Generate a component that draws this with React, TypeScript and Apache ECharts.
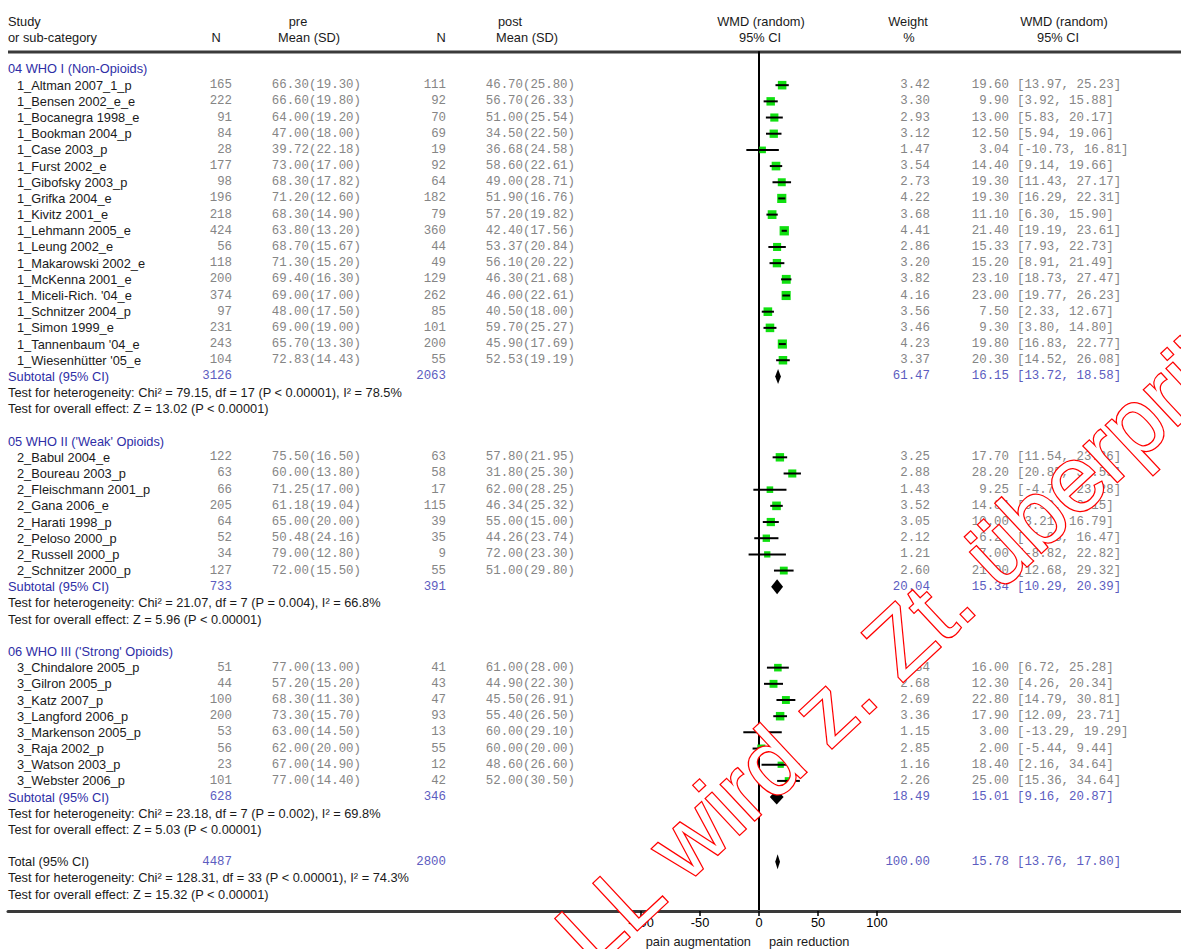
import React, { useEffect, useRef } from "react";
import * as echarts from "echarts";

const groupTitles = ["04 WHO I (Non-Opioids)", "05 WHO II ('Weak' Opioids)", "06 WHO III ('Strong' Opioids)"];
const groupSizes = [18, 8, 8];
const studyNames = [
  "1_Altman 2007_1_p", "1_Bensen 2002_e_e", "1_Bocanegra 1998_e", "1_Bookman 2004_p", "1_Case 2003_p",
  "1_Furst 2002_e", "1_Gibofsky 2003_p", "1_Grifka 2004_e", "1_Kivitz 2001_e", "1_Lehmann 2005_e",
  "1_Leung 2002_e", "1_Makarowski 2002_e", "1_McKenna 2001_e", "1_Miceli-Rich. '04_e", "1_Schnitzer 2004_p",
  "1_Simon 1999_e", "1_Tannenbaum '04_e", "1_Wiesenhütter '05_e",
  "2_Babul 2004_e", "2_Boureau 2003_p", "2_Fleischmann 2001_p", "2_Gana 2006_e", "2_Harati 1998_p",
  "2_Peloso 2000_p", "2_Russell 2000_p", "2_Schnitzer 2000_p",
  "3_Chindalore 2005_p", "3_Gilron 2005_p", "3_Katz 2007_p", "3_Langford 2006_p", "3_Markenson 2005_p",
  "3_Raja 2002_p", "3_Watson 2003_p", "3_Webster 2006_p",
];
const preN = [165, 222, 91, 84, 28, 177, 98, 196, 218, 424, 56, 118, 200, 374, 97, 231, 243, 104,
  122, 63, 66, 205, 64, 52, 34, 127,
  51, 44, 100, 200, 53, 56, 23, 101];
const preMean = [66.3, 66.6, 64.0, 47.0, 39.72, 73.0, 68.3, 71.2, 68.3, 63.8, 68.7, 71.3, 69.4, 69.0, 48.0, 69.0, 65.7, 72.83,
  75.5, 60.0, 71.25, 61.18, 65.0, 50.48, 79.0, 72.0,
  77.0, 57.2, 68.3, 73.3, 63.0, 62.0, 67.0, 77.0];
const preSD = [19.3, 19.8, 19.2, 18.0, 22.18, 17.0, 17.82, 12.6, 14.9, 13.2, 15.67, 15.2, 16.3, 17.0, 17.5, 19.0, 13.3, 14.43,
  16.5, 13.8, 17.0, 19.04, 20.0, 24.16, 12.8, 15.5,
  13.0, 15.2, 11.3, 15.7, 14.5, 20.0, 14.9, 14.4];
const postN = [111, 92, 70, 69, 19, 92, 64, 182, 79, 360, 44, 49, 129, 262, 85, 101, 200, 55,
  63, 58, 17, 115, 39, 35, 9, 55,
  41, 43, 47, 93, 13, 55, 12, 42];
const postMean = [46.7, 56.7, 51.0, 34.5, 36.68, 58.6, 49.0, 51.9, 57.2, 42.4, 53.37, 56.1, 46.3, 46.0, 40.5, 59.7, 45.9, 52.53,
  57.8, 31.8, 62.0, 46.34, 55.0, 44.26, 72.0, 51.0,
  61.0, 44.9, 45.5, 55.4, 60.0, 60.0, 48.6, 52.0];
const postSD = [25.8, 26.33, 25.54, 22.5, 24.58, 22.61, 28.71, 16.76, 19.82, 17.56, 20.84, 20.22, 21.68, 22.61, 18.0, 25.27, 17.69, 19.19,
  21.95, 25.3, 28.25, 25.32, 15.0, 23.74, 23.3, 29.8,
  28.0, 22.3, 26.91, 26.5, 29.1, 20.0, 26.6, 30.5];
const weights = [3.42, 3.30, 2.93, 3.12, 1.47, 3.54, 2.73, 4.22, 3.68, 4.41, 2.86, 3.20, 3.82, 4.16, 3.56, 3.46, 4.23, 3.37,
  3.25, 2.88, 1.43, 3.52, 3.05, 2.12, 1.21, 2.60,
  2.34, 2.68, 2.69, 3.36, 1.15, 2.85, 1.16, 2.26];
const wmd = [19.6, 9.9, 13.0, 12.5, 3.04, 14.4, 19.3, 19.3, 11.1, 21.4, 15.33, 15.2, 23.1, 23.0, 7.5, 9.3, 19.8, 20.3,
  17.7, 28.2, 9.25, 14.84, 10.0, 6.22, 7.0, 21.0,
  16.0, 12.3, 22.8, 17.9, 3.0, 2.0, 18.4, 25.0];
const ciLow = [13.97, 3.92, 5.83, 5.94, -10.73, 9.14, 11.43, 16.29, 6.3, 19.19, 7.93, 8.91, 18.73, 19.77, 2.33, 3.8, 16.83, 14.52,
  11.54, 20.85, -4.78, 9.53, 3.21, -4.03, -8.82, 12.68,
  6.72, 4.26, 14.79, 12.09, -13.29, -5.44, 2.16, 15.36];
const ciHigh = [25.23, 15.88, 20.17, 19.06, 16.81, 19.66, 27.17, 22.31, 15.9, 23.61, 22.73, 21.49, 27.47, 26.23, 12.67, 14.8, 22.77, 26.08,
  23.86, 35.55, 23.28, 20.15, 16.79, 16.47, 22.82, 29.32,
  25.28, 20.34, 30.81, 23.71, 19.29, 9.44, 34.64, 34.64];

const subPreN = [3126, 733, 628];
const subPostN = [2063, 391, 346];
const subWeight = [61.47, 20.04, 18.49];
const subWMD = [16.15, 15.34, 15.01];
const subLow = [13.72, 10.29, 9.16];
const subHigh = [18.58, 20.39, 20.87];
const hetTexts = [
  "Test for heterogeneity: Chi² = 79.15, df = 17 (P < 0.00001), I² = 78.5%",
  "Test for heterogeneity: Chi² = 21.07, df = 7 (P = 0.004), I² = 66.8%",
  "Test for heterogeneity: Chi² = 23.18, df = 7 (P = 0.002), I² = 69.8%",
];
const effectTexts = [
  "Test for overall effect: Z = 13.02 (P < 0.00001)",
  "Test for overall effect: Z = 5.96 (P < 0.00001)",
  "Test for overall effect: Z = 5.03 (P < 0.00001)",
];
const totalPreN = 4487;
const totalPostN = 2800;
const totalWeight = 100.0;
const totalWMD = 15.78;
const totalLow = 13.76;
const totalHigh = 17.8;
const totalHet = "Test for heterogeneity: Chi² = 128.31, df = 33 (P < 0.00001), I² = 74.3%";
const totalEffect = "Test for overall effect: Z = 15.32 (P < 0.00001)";
const xTicks = [-100, -50, 0, 50, 100];

const SANS = '"Liberation Sans", Arial, sans-serif';
const MONO = '"Liberation Mono", "Courier New", monospace';
const F_SANS = "12.8px " + SANS;
const F_MONO = "12.4px " + MONO;
const BLACK = "#1a1a1a";
const GRAY = "#858585";
const BLUE = "#2e2ea6";
const BLUE2 = "#5c5cc0";

// column anchors (pixels)
const COL = { name: 17, head: 8, preN: 232, preMS: 361, postN: 446, postMS: 575, weight: 930, wmd: 1009, ci: 1017 };

type Row = { row: number; kind: string; label?: string; i?: number; g?: number };

function buildRows(): Row[] {
  const rows: Row[] = [];
  let r = 0;
  let s = 0;
  groupSizes.forEach((n, g) => {
    rows.push({ row: r++, kind: "group", label: groupTitles[g] });
    for (let k = 0; k < n; k++, s++) rows.push({ row: r++, kind: "study", i: s });
    rows.push({ row: r++, kind: "sub", g });
    rows.push({ row: r++, kind: "test", label: hetTexts[g] });
    rows.push({ row: r++, kind: "test", label: effectTexts[g] });
    r++;
  });
  rows.push({ row: r++, kind: "total" });
  rows.push({ row: r++, kind: "test", label: totalHet });
  rows.push({ row: r++, kind: "test", label: totalEffect });
  return rows;
}

const f2 = (v: number) => v.toFixed(2);

function txt(x: number, y: number, text: string, font: string, fill: string, align: string) {
  return {
    type: "text",
    x,
    y,
    silent: true,
    style: { text, font, fill, textAlign: align, textVerticalAlign: "middle" },
  };
}

export default function App() {
  const ref = useRef<HTMLDivElement>(null);
  useEffect(() => {
    if (!ref.current) return;
    const chart = echarts.init(ref.current, null, { renderer: "svg" });
    const rows = buildRows();

    // forest marks: [value, row, lo, hi, weight, kind]
    const marks: number[][] = [];
    rows.forEach((r) => {
      if (r.kind === "study") {
        const i = r.i as number;
        marks.push([wmd[i], r.row, ciLow[i], ciHigh[i], weights[i], 0]);
      } else if (r.kind === "sub") {
        const g = r.g as number;
        marks.push([subWMD[g], r.row, subLow[g], subHigh[g], subWeight[g], 1]);
      } else if (r.kind === "total") {
        marks.push([totalWMD, r.row, totalLow, totalHigh, totalWeight, 1]);
      }
    });

    const option: any = {
      animation: false,
      backgroundColor: "#ffffff",
      grid: { left: 8, right: 0, top: 52, bottom: 949 - 911, containLabel: false },
      xAxis: {
        type: "value",
        min: -(759 - 8) / 1.18,
        max: (1181 - 759) / 1.18,
        axisLine: { onZero: false, lineStyle: { color: "#3a3a3a", width: 3 } },
        axisTick: { show: true, customValues: xTicks, length: 5, lineStyle: { color: "#000", width: 1.5 } },
        axisLabel: {
          show: true,
          customValues: xTicks,
          color: "#000",
          fontSize: 12.8,
          fontFamily: SANS,
          margin: 5,
        },
        splitLine: { show: false },
      },
      yAxis: {
        type: "value",
        inverse: true,
        min: -1.05,
        max: 52.04,
        axisLine: { show: true, onZero: true, lineStyle: { color: "#000", width: 2 } },
        axisTick: { show: false },
        axisLabel: { show: false },
        splitLine: { show: false },
      },
      graphic: [
        { type: "rect", shape: { x: 8, y: 50.5, width: 1173, height: 3 }, style: { fill: "#3a3a3a" }, silent: true },
        txt(8, 21, "Study", F_SANS, BLACK, "left"),
        txt(8, 37, "or sub-category", F_SANS, BLACK, "left"),
        txt(216, 37, "N", F_SANS, BLACK, "center"),
        txt(298, 21, "pre", F_SANS, BLACK, "center"),
        txt(309, 37, "Mean (SD)", F_SANS, BLACK, "center"),
        txt(441, 37, "N", F_SANS, BLACK, "center"),
        txt(510, 21, "post", F_SANS, BLACK, "center"),
        txt(527, 37, "Mean (SD)", F_SANS, BLACK, "center"),
        txt(761, 21, "WMD (random)", F_SANS, BLACK, "center"),
        txt(760, 37, "95% CI", F_SANS, BLACK, "center"),
        txt(908, 21, "Weight", F_SANS, BLACK, "center"),
        txt(909, 37, "%", F_SANS, BLACK, "center"),
        txt(1064, 21, "WMD (random)", F_SANS, BLACK, "center"),
        txt(1058, 37, "95% CI", F_SANS, BLACK, "center"),
        txt(751, 941, "pain augmentation", F_SANS, BLACK, "right"),
        txt(769, 941, "pain reduction", F_SANS, BLACK, "left"),
        {
          type: "text",
          x: 572,
          y: 947,
          rotation: (43 * Math.PI) / 180,
          z: 100,
          silent: true,
          style: {
            text: "LL wird z. Zt. überprüft",
            font: "93px " + SANS,
            fill: "#ffffff",
            stroke: "#ff0000",
            lineWidth: 2.5,
            textAlign: "left",
            textVerticalAlign: "middle",
          },
        },
      ],
      series: [
        {
          type: "custom",
          name: "table",
          coordinateSystem: "cartesian2d",
          clip: false,
          silent: true,
          encode: { x: 0, y: 1 },
          data: rows.map((r) => [0, r.row]),
          renderItem: (params: any, api: any) => {
            const r = rows[params.dataIndex];
            const y = api.coord([0, api.value(1)])[1];
            const ch: any[] = [];
            if (r.kind === "group") {
              ch.push(txt(COL.head, y, r.label as string, F_SANS, BLUE, "left"));
            } else if (r.kind === "study") {
              const i = r.i as number;
              ch.push(txt(COL.name, y, studyNames[i], F_SANS, BLACK, "left"));
              ch.push(txt(COL.preN, y, String(preN[i]), F_MONO, GRAY, "right"));
              ch.push(txt(COL.preMS, y, f2(preMean[i]) + "(" + f2(preSD[i]) + ")", F_MONO, GRAY, "right"));
              ch.push(txt(COL.postN, y, String(postN[i]), F_MONO, GRAY, "right"));
              ch.push(txt(COL.postMS, y, f2(postMean[i]) + "(" + f2(postSD[i]) + ")", F_MONO, GRAY, "right"));
              ch.push(txt(COL.weight, y, f2(weights[i]), F_MONO, GRAY, "right"));
              ch.push(txt(COL.wmd, y, f2(wmd[i]), F_MONO, GRAY, "right"));
              ch.push(txt(COL.ci, y, "[" + f2(ciLow[i]) + ", " + f2(ciHigh[i]) + "]", F_MONO, GRAY, "left"));
            } else if (r.kind === "sub") {
              const g = r.g as number;
              ch.push(txt(COL.head, y, "Subtotal (95% CI)", F_SANS, BLUE, "left"));
              ch.push(txt(COL.preN, y, String(subPreN[g]), F_MONO, BLUE2, "right"));
              ch.push(txt(COL.postN, y, String(subPostN[g]), F_MONO, BLUE2, "right"));
              ch.push(txt(COL.weight, y, f2(subWeight[g]), F_MONO, BLUE2, "right"));
              ch.push(txt(COL.wmd, y, f2(subWMD[g]), F_MONO, BLUE2, "right"));
              ch.push(txt(COL.ci, y, "[" + f2(subLow[g]) + ", " + f2(subHigh[g]) + "]", F_MONO, BLUE2, "left"));
            } else if (r.kind === "total") {
              ch.push(txt(COL.head, y, "Total (95% CI)", F_SANS, BLACK, "left"));
              ch.push(txt(COL.preN, y, String(totalPreN), F_MONO, BLUE2, "right"));
              ch.push(txt(COL.postN, y, String(totalPostN), F_MONO, BLUE2, "right"));
              ch.push(txt(COL.weight, y, f2(totalWeight), F_MONO, BLUE2, "right"));
              ch.push(txt(COL.wmd, y, f2(totalWMD), F_MONO, BLUE2, "right"));
              ch.push(txt(COL.ci, y, "[" + f2(totalLow) + ", " + f2(totalHigh) + "]", F_MONO, BLUE2, "left"));
            } else {
              ch.push(txt(COL.head, y, r.label as string, F_SANS, BLACK, "left"));
            }
            return { type: "group", children: ch };
          },
        },
        {
          type: "custom",
          name: "forest",
          coordinateSystem: "cartesian2d",
          clip: false,
          silent: true,
          encode: { x: 0, y: 1 },
          data: marks,
          renderItem: (params: any, api: any) => {
            const v = api.value(0);
            const row = api.value(1);
            const lo = api.value(2);
            const hi = api.value(3);
            const w = api.value(4);
            const kind = api.value(5);
            const c = api.coord([v, row]);
            const pl = api.coord([lo, row]);
            const ph = api.coord([hi, row]);
            if (kind === 0) {
              const side = 3 + 3 * Math.sqrt(w);
              return {
                type: "group",
                children: [
                  {
                    type: "rect",
                    shape: { x: c[0] - side / 2, y: c[1] - side / 2, width: side, height: side },
                    style: { fill: "#10e010" },
                  },
                  {
                    type: "line",
                    shape: { x1: pl[0], y1: c[1], x2: ph[0], y2: c[1] },
                    style: { stroke: "#000", lineWidth: 2 },
                  },
                ],
              };
            }
            return {
              type: "polygon",
              shape: {
                points: [
                  [pl[0], c[1]],
                  [c[0], c[1] - 7.5],
                  [ph[0], c[1]],
                  [c[0], c[1] + 7.5],
                ],
              },
              style: { fill: "#000" },
            };
          },
        },
      ],
    };
    chart.setOption(option);
    return () => chart.dispose();
  }, []);
  return (
    <div
      ref={ref}
      style={{ position: "absolute", left: 0, top: 0, width: 1181, height: 949, background: "#fff" }}
    />
  );
}
